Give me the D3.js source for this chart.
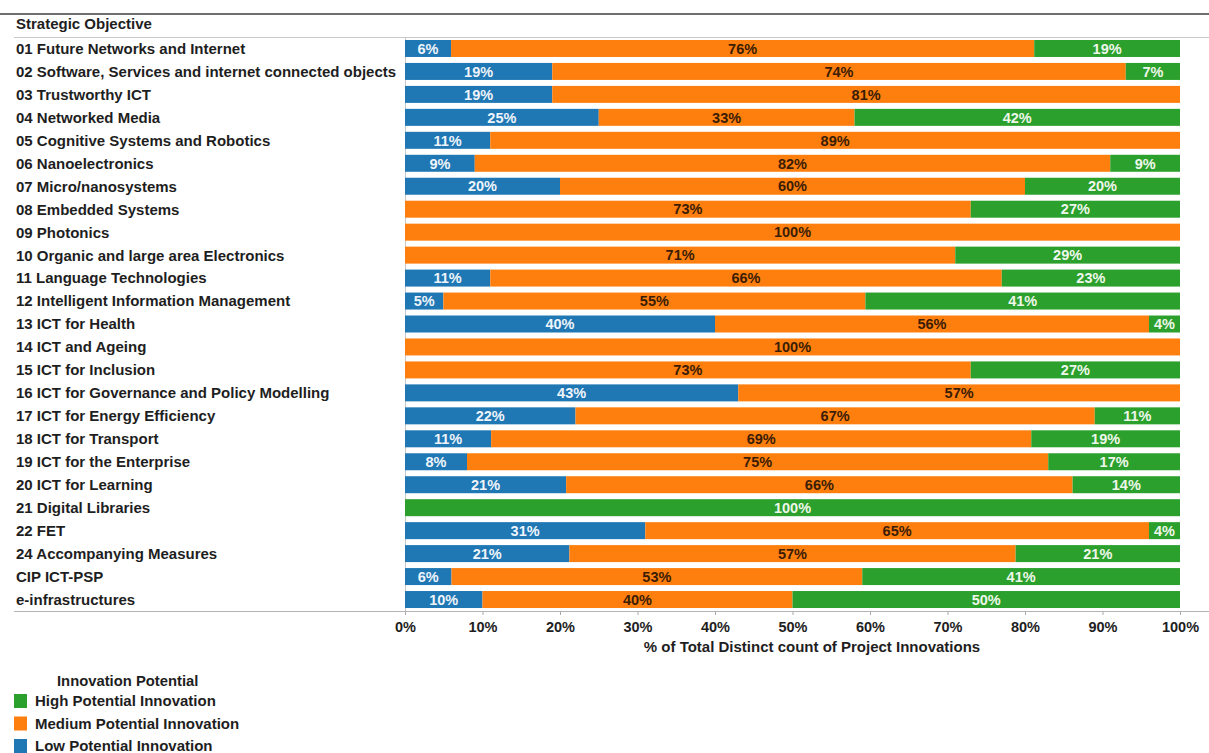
<!DOCTYPE html>
<html>
<head>
<meta charset="utf-8">
<script src="https://cdn.jsdelivr.net/npm/d3@7"></script>
<style>
  html, body { margin: 0; padding: 0; background: #fff; }
  svg { display: block; font-family: "Liberation Sans", Arial, sans-serif; }
</style>
</head>
<body>
<svg id="chart" width="1209" height="753"></svg>
<script>
// Strategic objectives (rows, top to bottom)
const categories = [
  "01 Future Networks and Internet",
  "02 Software, Services and internet connected objects",
  "03 Trustworthy ICT",
  "04 Networked Media",
  "05 Cognitive Systems and Robotics",
  "06 Nanoelectronics",
  "07 Micro/nanosystems",
  "08 Embedded Systems",
  "09 Photonics",
  "10 Organic and large area Electronics",
  "11 Language Technologies",
  "12 Intelligent Information Management",
  "13 ICT for Health",
  "14 ICT and Ageing",
  "15 ICT for Inclusion",
  "16 ICT for Governance and Policy Modelling",
  "17 ICT for Energy Efficiency",
  "18 ICT for Transport",
  "19 ICT for the Enterprise",
  "20 ICT for Learning",
  "21 Digital Libraries",
  "22 FET",
  "24 Accompanying Measures",
  "CIP ICT-PSP",
  "e-infrastructures"
];

// Share of project innovations per potential level (%)
const lowValues    = [6, 19, 19, 25, 11, 9, 20, 0, 0, 0, 11, 5, 40, 0, 0, 43, 22, 11, 8, 21, 0, 31, 21, 6, 10];
const mediumValues = [76, 74, 81, 33, 89, 82, 60, 73, 100, 71, 66, 55, 56, 100, 73, 57, 67, 69, 75, 66, 0, 65, 57, 53, 40];
const highValues   = [19, 7, 0, 42, 0, 9, 20, 27, 0, 29, 23, 41, 4, 0, 27, 0, 11, 19, 17, 14, 100, 4, 21, 41, 50];

const seriesNames = ["Low Potential Innovation", "Medium Potential Innovation", "High Potential Innovation"];
const seriesKeys = ["low", "medium", "high"];
const legendOrder = ["High Potential Innovation", "Medium Potential Innovation", "Low Potential Innovation"];
const tickValues = [0, 0.1, 0.2, 0.3, 0.4, 0.5, 0.6, 0.7, 0.8, 0.9, 1.0];

const colors = { low: "#1f77b4", medium: "#ff7f0e", high: "#2ca02c" };
const labelColors = { low: "#eef4fa", medium: "#3b1d05", high: "#eef7ea" };
const textColor = "#1e1e1e";

const rows = categories.map((c, i) => ({
  category: c, low: lowValues[i], medium: mediumValues[i], high: highValues[i]
}));

const stack = d3.stack().keys(seriesKeys).offset(d3.stackOffsetExpand);
const stacked = stack(rows);

const svg = d3.select("#chart");

const x = d3.scaleLinear().domain([0, 1]).range([405, 1180]);
const y = d3.scaleBand().domain(categories).range([37, 611]).paddingInner(0.26).paddingOuter(0.13);

// frame lines
svg.append("line").attr("x1", 0).attr("x2", 1209).attr("y1", 14).attr("y2", 14)
  .attr("stroke", "#6e6e6e").attr("stroke-width", 2);
svg.append("line").attr("x1", 14).attr("x2", 1209).attr("y1", 37.5).attr("y2", 37.5)
  .attr("stroke", "#c8c8c8").attr("stroke-width", 1);
svg.append("line").attr("x1", 405.5).attr("x2", 405.5).attr("y1", 37).attr("y2", 611)
  .attr("stroke", "#c8c8c8").attr("stroke-width", 1);

// header
svg.append("text").attr("x", 16).attr("y", 29).text("Strategic Objective")
  .attr("font-size", 15).attr("font-weight", "bold").attr("fill", textColor);

// row labels
svg.append("g").selectAll("text").data(categories).join("text")
  .attr("x", 16)
  .attr("y", d => y(d) + y.bandwidth() / 2)
  .attr("dy", "0.36em")
  .attr("font-size", 15).attr("font-weight", "bold").attr("fill", textColor)
  .text(d => d);

// bars
const layers = svg.append("g").selectAll("g").data(stacked).join("g")
  .attr("fill", d => colors[d.key]);

layers.selectAll("rect").data(d => d.map(s => ({ key: d.key, s }))).join("rect")
  .attr("x", d => x(d.s[0]))
  .attr("y", d => y(d.s.data.category))
  .attr("width", d => Math.max(0, x(d.s[1]) - x(d.s[0])))
  .attr("height", y.bandwidth());

// segment labels
const labelLayers = svg.append("g").selectAll("g").data(stacked).join("g");
labelLayers.selectAll("text")
  .data(d => d.filter(s => s.data[d.key] > 0).map(s => ({ key: d.key, s })))
  .join("text")
  .attr("x", d => (x(d.s[0]) + x(d.s[1])) / 2)
  .attr("y", d => y(d.s.data.category) + y.bandwidth() / 2)
  .attr("dy", "0.36em")
  .attr("text-anchor", "middle")
  .attr("font-size", 14.5).attr("font-weight", "bold")
  .attr("fill", d => labelColors[d.key])
  .text(d => d.s.data[d.key] + "%");

// x axis
const axis = svg.append("g").attr("transform", "translate(0,611)")
  .call(d3.axisBottom(x).tickValues(tickValues).tickFormat(d3.format(".0%")).tickSize(4).tickPadding(7));
axis.select(".domain").remove();
axis.selectAll(".tick line").attr("stroke", "#aaa");
axis.selectAll(".tick text").attr("font-size", 14.5).attr("font-weight", "bold").attr("fill", textColor)
  .attr("font-family", "Liberation Sans, Arial, sans-serif");
svg.append("line").attr("x1", 14).attr("x2", 1209).attr("y1", 611.5).attr("y2", 611.5)
  .attr("stroke", "#b4b4b4").attr("stroke-width", 1);

svg.append("text").attr("x", 812).attr("y", 652).attr("text-anchor", "middle")
  .attr("font-size", 15).attr("font-weight", "bold").attr("fill", textColor)
  .text("% of Total Distinct count of Project Innovations");

// legend
const legend = svg.append("g");
legend.append("text").attr("x", 57).attr("y", 686).text("Innovation Potential")
  .attr("font-size", 14.8).attr("font-weight", "bold").attr("fill", textColor);
const keyByName = Object.fromEntries(seriesNames.map((n, i) => [n, seriesKeys[i]]));
const items = legend.selectAll("g.item").data(legendOrder).join("g").attr("class", "item")
  .attr("transform", (d, i) => `translate(14,${694 + i * 22.5})`);
items.append("rect").attr("width", 13).attr("height", 14).attr("fill", d => colors[keyByName[d]]);
items.append("text").attr("x", 21).attr("y", 7).attr("dy", "0.36em")
  .attr("font-size", 15).attr("font-weight", "bold").attr("fill", textColor).text(d => d);
</script>
</body>
</html>
